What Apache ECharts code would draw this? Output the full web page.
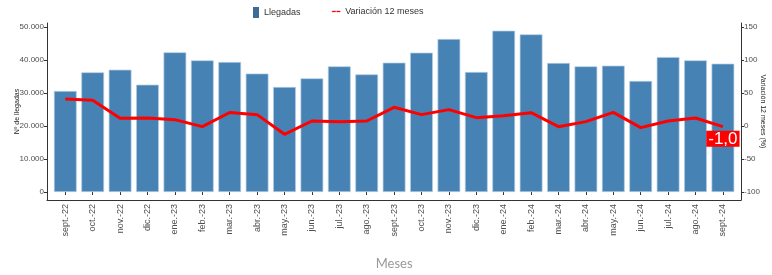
<!DOCTYPE html>
<html><head><meta charset="utf-8">
<script src="https://cdn.jsdelivr.net/npm/echarts@6/dist/echarts.min.js"></script>
<style>html,body{margin:0;padding:0;background:#fff}#c{width:772px;height:275px}</style>
</head><body><div id="c"></div>
<script>
const categories = ['sept.-22','oct.-22','nov.-22','dic.-22','ene.-23','feb.-23','mar.-23','abr.-23','may.-23','jun.-23','jul.-23','ago.-23','sept.-23','oct.-23','nov.-23','dic.-23','ene.-24','feb.-24','mar.-24','abr.-24','may.-24','jun.-24','jul.-24','ago.-24','sept.-24'];
const llegadas = [30600,36270,37060,32520,42330,39900,39390,35900,31820,34440,38080,35650,39190,42220,46360,36360,48880,47780,39090,38080,38280,33640,40900,39900,38890];
const variacion = [40.9,38.9,11.6,12.1,9.6,-1.0,20.4,17.2,-12.6,7.6,6.6,7.6,28.3,17.2,24.8,12.6,15.5,20.2,-1.0,6.6,20.7,-2.5,7.6,12.1,-1.0];
const leftTicks = [0,10000,20000,30000,40000,50000];
const rightTicks = [-100,-50,0,50,100,150];

const font = 'Liberation Sans';
const fmt = v => String(v).replace(/\B(?=(\d{3})+(?!\d))/g, '.');
const chart = echarts.init(document.getElementById('c'), null, {renderer:'canvas'});
const last = variacion.length - 1;
chart.setOption({
  animation:false,
  textStyle:{fontFamily:font},
  legend:[
    {left:253, top:7, itemWidth:6, itemHeight:11, itemGap:10, padding:0,
     textStyle:{fontSize:9, color:'#333', fontFamily:font},
     data:[{name:'Llegadas', icon:'rect', itemStyle:{color:'#3b6b96', borderWidth:0}}]},
    {left:332, top:7, itemWidth:8, itemHeight:2, itemGap:10, padding:0,
     textStyle:{fontSize:9, color:'#333', fontFamily:font},
     itemStyle:{color:'#ff0000', borderColor:'#ff0000', borderWidth:0.3},
     lineStyle:{color:'#ff0000', width:0, opacity:0},
     data:[{name:'Variación 12 meses', icon:'path://M0,0h3.5v1h-3.5zM4.5,0h3.5v1h-3.5z',
            itemStyle:{color:'#ff0000', borderColor:'#ff0000', borderWidth:0.3},
            lineStyle:{color:'#ff0000', width:0, opacity:0}}]}
  ],
  grid:[
    {left:51.6, right:35.4, top:23, bottom:75, outerBoundsMode:'none', containLabel:false},
    {left:47, right:31, top:23, bottom:75, outerBoundsMode:'none', containLabel:false}
  ],
  xAxis:[
    {type:'category', gridIndex:0, data:categories, boundaryGap:true,
     axisLine:{show:false},
     axisTick:{show:true, alignWithLabel:true, length:3, lineStyle:{color:'#333'}},
     axisLabel:{rotate:90, fontSize:9, color:'#4d4d4d', margin:4, interval:0, fontFamily:font},
     name:'Meses', nameLocation:'middle', nameGap:57,
     nameTextStyle:{fontSize:13, color:'#999', fontFamily:'Lato'}},
    {type:'value', gridIndex:1, min:0, max:1,
     axisLine:{show:true, lineStyle:{color:'#333', width:1}},
     axisTick:{show:false}, axisLabel:{show:false}, splitLine:{show:false}}
  ],
  yAxis:[
    {type:'value', gridIndex:0, position:'left', offset:4.6, min:-2424, max:51212,
     axisLine:{show:true, lineStyle:{color:'#333', width:1}},
     axisTick:{show:true, length:3, customValues:leftTicks, lineStyle:{color:'#333'}},
     axisLabel:{customValues:leftTicks, formatter:v=>fmt(v), fontSize:8, color:'#4d4d4d', margin:3, fontFamily:font},
     splitLine:{show:false},
     name:'Nº de llegadas', nameLocation:'middle', nameGap:26, nameRotate:90, nameMoveOverlap:false,
     nameTextStyle:{fontSize:7, color:'#222', fontFamily:font}},
    {type:'value', gridIndex:0, position:'right', offset:4.4, min:-112.12, max:156.06,
     axisLine:{show:true, lineStyle:{color:'#333', width:1}},
     axisTick:{show:true, length:3, customValues:rightTicks, lineStyle:{color:'#333'}},
     axisLabel:{customValues:rightTicks, fontSize:8, color:'#4d4d4d', margin:3, fontFamily:font},
     splitLine:{show:false},
     name:'Variación 12 meses (%)', nameLocation:'middle', nameGap:18, nameRotate:-90, nameMoveOverlap:false,
     nameTextStyle:{fontSize:7, color:'#222', fontFamily:font}},
    {type:'value', gridIndex:1, show:false}
  ],
  series:[
    {name:'Llegadas', type:'bar', xAxisIndex:0, yAxisIndex:0, data:llegadas,
     barCategoryGap:'17%',
     itemStyle:{color:'#4682b4', borderColor:'#b5cde3', borderWidth:0.7}},
    {name:'Variación 12 meses', type:'line', xAxisIndex:0, yAxisIndex:1,
     data:variacion.map((v,i)=> i===last ? {value:v, label:{show:true}} : v),
     symbol:'circle', symbolSize:0.01, showSymbol:true,
     lineStyle:{color:'#ff0000', width:3}, itemStyle:{color:'#ff0000'},
     labelLayout:{hideOverlap:false},
     label:{show:false, position:'bottom', distance:4,
       formatter:p=>p.value.toFixed(1).replace('.', ','),
       backgroundColor:'#ff0000', color:'#fff', fontSize:17, padding:[0,2,-1,2], fontFamily:font}}
  ]
});
</script></body></html>
